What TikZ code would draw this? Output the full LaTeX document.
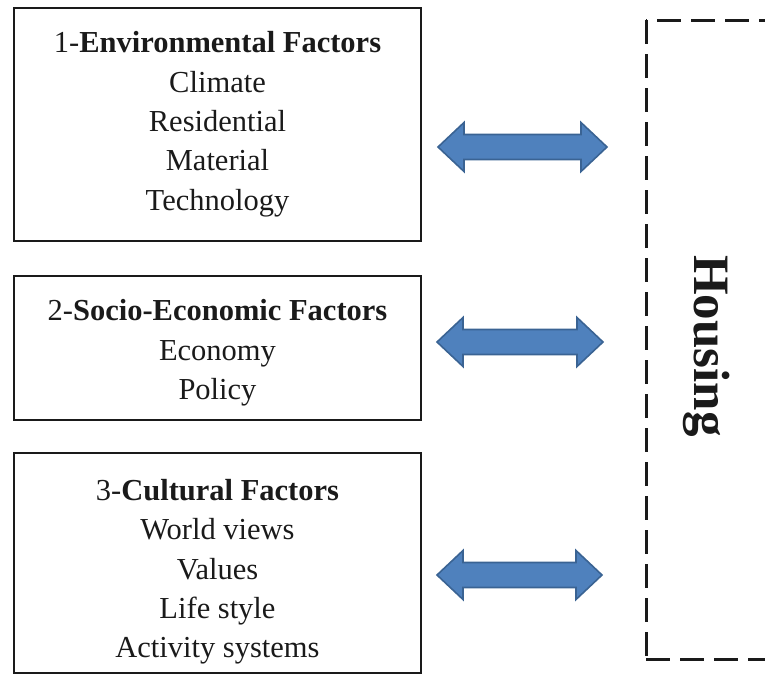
\documentclass[tikz,border=0pt]{standalone}
\usepackage{fontspec}
\setmainfont{Liberation Serif}
\usetikzlibrary{calc}
\definecolor{arrfill}{HTML}{4F81BD}
\definecolor{arrline}{HTML}{3A6393}
\definecolor{inkc}{HTML}{1A1A1A}
\newcommand\blockarr[2]{%
  \draw[barrow] (#1) -- ($(#1)+(26,-24.5)$) -- ($(#1)+(26,-12.5)$)
    -- ($(#2)+(-26,-12.5)$) -- ($(#2)+(-26,-24.5)$) -- (#2)
    -- ($(#2)+(-26,24.5)$) -- ($(#2)+(-26,12.5)$)
    -- ($(#1)+(26,12.5)$) -- ($(#1)+(26,24.5)$) -- cycle;}
\begin{document}
\begin{tikzpicture}[x=1pt,y=-1pt,
  factorbox/.style={draw=inkc, line width=2.2pt, inner sep=0pt, minimum width=407pt},
  txt/.style={align=center, inner sep=0pt, text=inkc, font=\fontsize{30.5}{39.3}\selectfont},
  barrow/.style={fill=arrfill, draw=arrline, line width=1.6pt, line join=miter},
  hdash/.style={draw=inkc, line width=3pt, dash pattern=on 24pt off 10pt}]
\useasboundingbox (0,0) rectangle (765,675);
% boxes
\node[factorbox, minimum height=233pt] (box1) at (217.5,124.5) {};
\node[factorbox, minimum height=144pt] (box2) at (217.5,348) {};
\node[factorbox, minimum height=220pt] (box3) at (217.5,563) {};
% texts
\node[txt] (t1) at (217.5,124.3) {1-\textbf{Environmental Factors}\\Climate\\Residential\\Material\\Technology};
\node[txt] (t2) at (217.5,352.8) {2-\textbf{Socio-Economic Factors}\\Economy\\Policy};
\node[txt] (t3) at (217.5,571.8) {3-\textbf{Cultural Factors}\\World views\\Values\\Life style\\Activity systems};
% housing frame
\coordinate (hTL) at (646,20);
\coordinate (hBL) at (646,659);
\coordinate (hTR) at (775,20);
\coordinate (hBR) at (775,659);
\draw[hdash] (hTL) -- (hBL);
\draw[hdash, dash phase=23pt] (hTL) -- (hTR);
\draw[hdash] (hBL) -- (hBR);
\node[font=\fontsize{51}{51}\selectfont\bfseries, text=inkc, rotate=-90, inner sep=0pt] (housing) at (707,346) {Housing};
% arrows
\coordinate (a1l) at (438,147);
\coordinate (a1r) at (607,147);
\coordinate (a2l) at (437,342);
\coordinate (a2r) at (603,342);
\coordinate (a3l) at (437,575);
\coordinate (a3r) at (602,575);
\blockarr{a1l}{a1r}
\blockarr{a2l}{a2r}
\blockarr{a3l}{a3r}
\end{tikzpicture}
\end{document}
